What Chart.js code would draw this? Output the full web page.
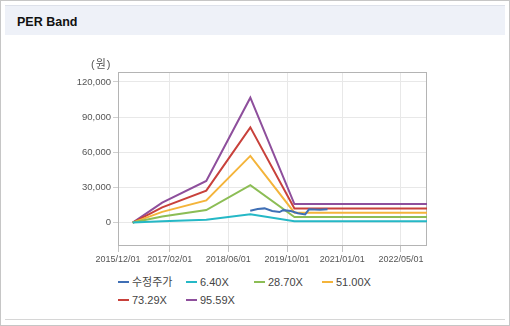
<!DOCTYPE html>
<html>
<head>
<meta charset="utf-8">
<script src="https://cdn.jsdelivr.net/npm/chart.js@4"></script>
<style>
  body { margin: 0; background: #fff; font-family: "Liberation Sans", "Noto Sans CJK KR", sans-serif; }
  #frame { position: absolute; left: 0; top: 0; width: 508px; height: 324px; border: 1px solid #c6c6c6; }
  #head { position: absolute; left: 4px; top: 4px; width: 500px; height: 29px; background: #eef1f8; border-top: 1px solid #dde1ea; }
  #head span { position: absolute; left: 12px; top: 9px; font: bold 12.5px "Liberation Sans", sans-serif; color: #111; }
  #foot { position: absolute; left: 4px; top: 318px; width: 500px; height: 0; border-top: 1px solid #d6d6d6; }
  #wrap { position: absolute; left: 0; top: 0; width: 510px; height: 270px; }
  #unit { position: absolute; left: 91px; top: 55px; font: 11px "Liberation Sans", "Noto Sans CJK KR", sans-serif; color: #555; letter-spacing: 1px; }
  #legend { position: absolute; left: 118px; top: 274px; width: 290px; }
  .item { display: inline-block; width: 68px; height: 16px; line-height: 16px; font-size: 11px; color: #444; white-space: nowrap; vertical-align: top; }
  .item i { display: inline-block; width: 11px; height: 2px; margin-right: 3px; vertical-align: middle; position: relative; top: -1px; }
</style>
</head>
<body>
<div id="frame">
  <div id="head"><span>PER Band</span></div>
  <div id="foot"></div>
</div>
<div id="wrap"><canvas id="chart" width="510" height="270"></canvas></div>
<div id="unit">(원)</div>
<div id="legend"></div>
<script>
const tickDates = ['2015/12/01', '2017/02/01', '2018/06/01', '2019/10/01', '2021/01/01', '2022/05/01'];
const yTicks = [0, 30000, 60000, 90000, 120000];

const bandDates = ['2016/04/01', '2016/12/01', '2017/12/01', '2018/12/01', '2019/12/01', '2022/12/03'];
const band640 = [0, 1100, 2400, 7100, 1050, 1050];
const band2870 = [0, 5100, 10700, 32000, 4750, 4750];
const band5100 = [0, 9100, 18900, 56900, 8400, 8400];
const band7329 = [0, 13000, 27200, 81300, 12100, 12100];
const band9559 = [0, 17000, 35500, 106600, 15800, 15800];

const priceDates = ['2018/11/30', '2019/01/31', '2019/03/29', '2019/05/31', '2019/07/31', '2019/08/30',
  '2019/10/31', '2019/12/30', '2020/02/28', '2020/03/31', '2020/06/30', '2020/08/31'];
const priceValues = [10100, 11500, 12100, 9900, 9000, 10600, 9900, 8000, 7000, 11300, 11000, 11400];

const labels = ['수정주가', '6.40X', '28.70X', '51.00X', '73.29X', '95.59X'];
const colors = ['#3f6fb5', '#25b8c6', '#8cbd55', '#f4b43a', '#c8413b', '#8e4f9c'];

const base = Date.UTC(2015, 11, 1);
const day = s => {
  const p = s.split('/').map(Number);
  return (Date.UTC(p[0], p[1] - 1, p[2]) - base) / 86400000;
};
const pts = (dates, vals) => dates.map((d, i) => ({ x: day(d), y: vals[i] }));

const series = [
  pts(priceDates, priceValues),
  pts(bandDates, band640),
  pts(bandDates, band2870),
  pts(bandDates, band5100),
  pts(bandDates, band7329),
  pts(bandDates, band9559)
];

const datasets = series.map((data, i) => ({
  label: labels[i],
  data: data,
  borderColor: colors[i],
  backgroundColor: colors[i],
  borderWidth: 2,
  pointRadius: 0,
  tension: 0,
  fill: false,
  order: i === 0 ? 0 : 1
}));

const boxPlugin = {
  id: 'box',
  beforeDatasetsDraw(chart) {
    const a = chart.chartArea, c = chart.ctx;
    c.save();
    c.strokeStyle = '#b4b4b4';
    c.lineWidth = 1;
    c.strokeRect(Math.round(a.left) + 0.5, Math.round(a.top) + 0.5, Math.round(a.right - a.left) - 1, Math.round(a.bottom - a.top) - 1);
    c.restore();
  }
};

const tickFont = { family: '"Liberation Sans", sans-serif', size: 9.5 };

new Chart(document.getElementById('chart').getContext('2d'), {
  type: 'line',
  data: { datasets: datasets },
  plugins: [boxPlugin],
  options: {
    responsive: false,
    animation: false,
    devicePixelRatio: 1,
    layout: { padding: { left: 0, right: 83, top: 72, bottom: 0 } },
    plugins: { legend: { display: false }, tooltip: { enabled: false } },
    scales: {
      x: {
        type: 'linear',
        min: 0,
        max: day('2022/12/03'),
        afterBuildTicks: s => { s.ticks = tickDates.map(d => ({ value: day(d) })); },
        afterFit: s => { s.height = 24; },
        ticks: {
          autoSkip: false,
          maxRotation: 0,
          padding: 2,
          color: '#555',
          font: { family: '"Liberation Sans", sans-serif', size: 9 },
          callback: v => tickDates.find(d => day(d) === v) || ''
        },
        grid: { color: '#e8e8e8', tickColor: '#c4c4c4', tickLength: 6 },
        border: { display: false }
      },
      y: {
        min: -20000,
        max: 128500,
        afterBuildTicks: s => { s.ticks = yTicks.map(v => ({ value: v })); },
        afterFit: s => { s.width = 118; },
        ticks: {
          padding: 2,
          color: '#555',
          font: tickFont,
          callback: v => v.toLocaleString('en-US')
        },
        grid: { color: '#e8e8e8', tickColor: '#cfcfcf', tickLength: 5 },
        border: { display: false }
      }
    }
  }
});

const legend = document.getElementById('legend');
labels.forEach((l, i) => {
  const it = document.createElement('span');
  it.className = 'item';
  it.innerHTML = '<i style="background:' + colors[i] + '"></i>' + l;
  legend.appendChild(it);
});
</script>
</body>
</html>
